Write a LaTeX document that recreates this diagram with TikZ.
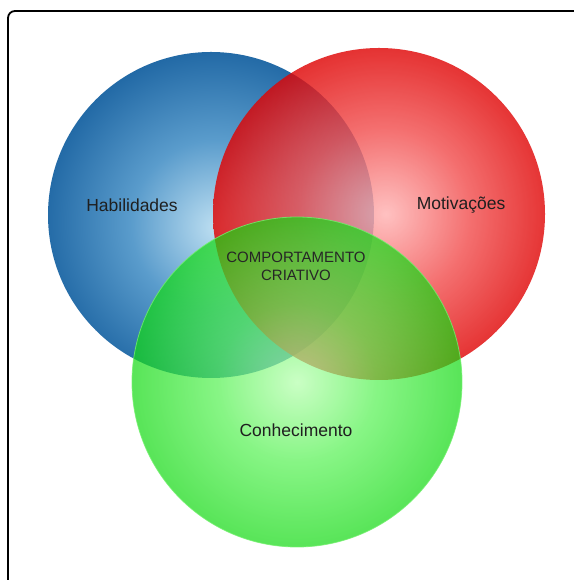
\documentclass[tikz,border=0pt]{standalone}
\usepackage{fontspec}
\setmainfont{Liberation Sans}
\usetikzlibrary{positioning}

\definecolor{habIn}{HTML}{BFE0F2}
\definecolor{habMid}{HTML}{5A9CCC}
\definecolor{habOut}{HTML}{1A62A0}
\definecolor{motIn}{HTML}{FFB4B4}
\definecolor{motMid}{HTML}{F25050}
\definecolor{motOut}{HTML}{DE0000}
\definecolor{conIn}{HTML}{B4FFAC}
\definecolor{conMid}{HTML}{55F252}
\definecolor{conOut}{HTML}{12DA12}

\pgfdeclareradialshading{habshade}{\pgfpoint{1bp}{-2bp}}{color(0bp)=(habIn); color(13bp)=(habMid); color(28bp)=(habOut); color(50bp)=(habOut)}
\pgfdeclareradialshading{motshade}{\pgfpoint{1bp}{0bp}}{color(0bp)=(motIn); color(13bp)=(motMid); color(26bp)=(motOut); color(50bp)=(motOut)}
\pgfdeclareradialshading{conshade}{\pgfpoint{0bp}{0bp}}{color(0bp)=(conIn); color(12bp)=(conMid); color(25bp)=(conOut); color(50bp)=(conOut)}

\begin{document}
\begin{tikzpicture}[x=1pt, y=1pt,
    venn/.style={circle, inner sep=0pt, minimum size=#1},
    tag/.style={font=\fontsize{17.5}{21}\selectfont, text=black!88},
    core/.style={font=\fontsize{15}{18}\selectfont, text=black!85, align=center}]
\useasboundingbox (0,0) rectangle (573,580);
\fill[white] (0,0) rectangle (573,580);
% frame, cut at right and bottom
\draw[line width=1.8pt, rounded corners=7pt] (8,-10) |- (590,569);
% the three sets
\foreach \name/\x/\y/\d/\sh/\op in {hab/211/365/326/habshade/1, mot/379/366/332/motshade/0.82, con/297/198/330/conshade/0.7}
    \node[venn=\d pt, shading=\sh, fill opacity=\op] (\name) at (\x,\y) {};
\draw[conIn!60!conOut, line width=0.8pt, opacity=0.8] (con.center) circle[radius=165];
% labels
\node[tag] (habtxt) at (132,375) {Habilidades};
\node[tag] (mottxt) at (461,375) {Motivações};
\node[tag] (contxt) at (296,150) {Conhecimento};
\node[core] (coretxt) at (296,314) {COMPORTAMENTO\\CRIATIVO};
\end{tikzpicture}
\end{document}
